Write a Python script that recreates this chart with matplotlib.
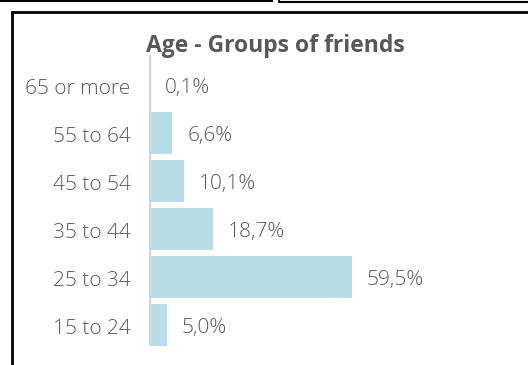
import matplotlib
matplotlib.use("Agg")
import matplotlib.pyplot as plt
from matplotlib.lines import Line2D
from matplotlib.transforms import offset_copy

# Age distribution of groups of friends (share in %)
categories = ["15 to 24", "25 to 34", "35 to 44", "45 to 54", "55 to 64", "65 or more"]
values = [5.0, 59.5, 18.7, 10.1, 6.6, 0.1]
value_labels = ["5,0%", "59,5%", "18,7%", "10,1%", "6,6%", "0,1%"]
title = "Age - Groups of friends"

W, H = 528, 365
fig = plt.figure(figsize=(W / 100, H / 100), dpi=100)
fig.patch.set_facecolor("white")

text_color = "#585858"
bar_color = "#b8dde8"
font = "Open Sans"

# axes placed in pixel coordinates: x from 150 to 515, y from 61 to 349
ax = fig.add_axes([150 / W, 1 - 349 / H, 365 / W, 288 / H])
ax.barh(range(len(categories)), values, height=0.86, color=bar_color, zorder=2)
ax.set_xlim(0, 365 / 3.39)
ax.set_ylim(-0.5, len(categories) - 0.5)

for spine in ["top", "right", "bottom"]:
    ax.spines[spine].set_visible(False)
ax.spines["left"].set_color("#d4d4d4")
ax.spines["left"].set_linewidth(1.6)
ax.spines["left"].set_bounds(-0.42, 5.6)
ax.set_xticks([])
ax.set_yticks(range(len(categories)))
ax.set_yticklabels(categories, fontsize=15, color=text_color, family=font, fontweight=300)
ax.tick_params(axis="y", length=0, pad=14)
for lbl in ax.get_yticklabels():
    lbl.set_transform(offset_copy(lbl.get_transform(), fig=fig, x=0, y=-1, units="dots"))

for i, (v, lab) in enumerate(zip(values, value_labels)):
    ax.annotate(lab, xy=(v, i), xytext=(15, -2.5), textcoords="offset pixels",
                ha="left", va="center", fontsize=15, color=text_color, family=font,
                fontweight=300)

fig.text(275 / W, 1 - 46.5 / H, title, ha="center", va="center", fontsize=16.5,
         fontweight="bold", color=text_color, family=font)

# surrounding frame lines
def hline(y, x0, x1, lw=2.0):
    fig.add_artist(Line2D([x0 / W, x1 / W], [1 - y / H, 1 - y / H], color="black", lw=lw,
                          solid_capstyle="butt", transform=fig.transFigure))

def vline(x, y0, y1, lw=2.0):
    fig.add_artist(Line2D([x / W, x / W], [1 - y0 / H, 1 - y1 / H], color="black", lw=lw,
                          solid_capstyle="butt", transform=fig.transFigure))

hline(0.6, 0, 273, lw=1.5)
hline(1.6, 279, 528, lw=1.5)
vline(279, 0, 2.5, lw=1.2)
hline(11.5, 10.5, 528, lw=2.0)
vline(11.5, 10.5, 365, lw=2.0)

fig.savefig("out.png", dpi=100)
